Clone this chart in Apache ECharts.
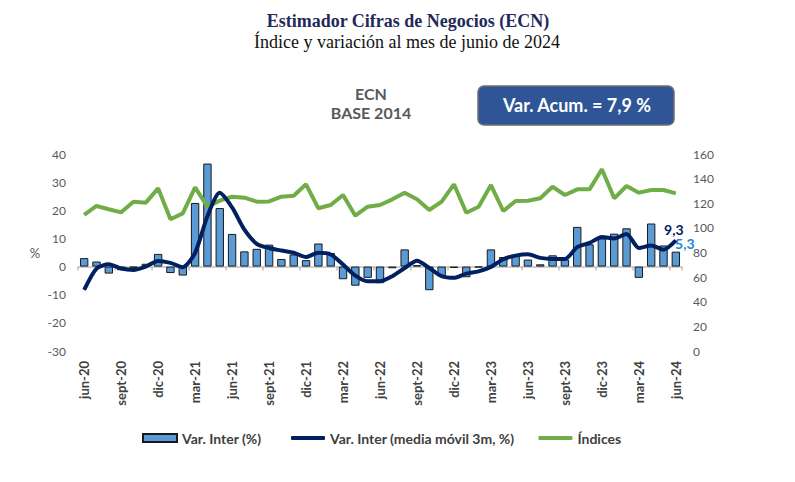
<!DOCTYPE html>
<html><head><meta charset="utf-8">
<script src="https://cdn.jsdelivr.net/npm/echarts@6/dist/echarts.min.js"></script>
<style>html,body{margin:0;padding:0;background:#fff}#c{width:795px;height:482px}</style>
</head><body><div id="c"></div>
<script>
const categories = [
  'jun-20','jul-20','ago-20','sept-20','oct-20','nov-20','dic-20',
  'ene-21','feb-21','mar-21','abr-21','may-21','jun-21','jul-21','ago-21','sept-21','oct-21','nov-21','dic-21',
  'ene-22','feb-22','mar-22','abr-22','may-22','jun-22','jul-22','ago-22','sept-22','oct-22','nov-22','dic-22',
  'ene-23','feb-23','mar-23','abr-23','may-23','jun-23','jul-23','ago-23','sept-23','oct-23','nov-23','dic-23',
  'ene-24','feb-24','mar-24','abr-24','may-24','jun-24'
];
const varInter = [3.0, 1.8, -2.5, -1.3, -0.4, 1.0, 4.5, -2.3, -3.2, 22.6,
  36.6, 20.8, 11.6, 5.4, 6.3, 7.8, 2.7, 4.3, 2.3, 8.2,
  4.8, -4.5, -6.8, -4.0, -5.9, -0.6, 6.1, 0.5, -8.4, -3.4,
  -0.5, -3.8, -0.3, 6.1, 3.4, 4.1, 2.5, 0.8, 4.0, 2.5,
  14.1, 7.9, 10.0, 11.7, 13.6, -4.0, 15.3, 7.5, 5.3];
const mediaMovil = [-8.3, -0.7, 0.8, -0.7, -1.2, 0.0, 2.0, 1.3, -0.2, 4.9,
  17.9, 26.2, 21.0, 13.1, 8.1, 6.6, 5.7, 4.9, 3.4, 4.9,
  4.3, 0.7, -3.2, -5.2, -5.2, -3.4, -0.5, 2.1, -0.5, -3.4,
  -4.0, -2.5, -1.7, -0.1, 2.6, 3.9, 4.4, 3.1, 2.7, 2.7,
  6.9, 8.4, 10.5, 10.0, 11.6, 6.6, 7.5, 6.0, 9.3];
const indices = [110.5, 117.8, 115.1, 112.6, 121.3, 120.5, 132.1, 107.0, 111.8, 132.9,
  117.2, 122.1, 125.3, 124.5, 121.3, 121.5, 125.3, 126.1, 135.4, 115.9,
  118.6, 126.7, 109.9, 117.2, 118.6, 123.2, 128.6, 123.2, 114.5, 121.3,
  135.4, 112.3, 117.2, 134.8, 113.7, 121.8, 122.1, 124.0, 133.4, 126.7,
  131.3, 131.3, 147.6, 124.0, 134.0, 128.6, 130.8, 130.8, 128.0];
const leftTicks = {min: -30, max: 40, interval: 10};
const rightTicks = {min: 0, max: 160, interval: 20};
const seriesNames = ['Var. Inter (%)', 'Var. Inter (media móvil 3m, %)', 'Índices'];
const titleText = 'Estimador Cifras de Negocios (ECN)';
const subtitleText = 'Índice y variación al mes de junio de 2024';
const acumText = 'Var. Acum. = 7,9 %';

const sans = 'Lato, "Open Sans", sans-serif';
const serif = '"Liberation Serif", "DejaVu Serif", serif';
const last = categories.length - 1;
const comma = p => String(p.value).replace('.', ',');

const barData = varInter.map((v, i) => i === last ? {
  value: v,
  label: {show: true, position: 'top', distance: 1, offset: [9, 0], formatter: comma,
    color: '#1F86D6', fontFamily: sans, fontWeight: 'bold', fontSize: 14}
} : v);
const maData = mediaMovil.map((v, i) => i === last ? {
  value: v, symbol: 'circle', symbolSize: 1,
  label: {show: true, position: 'top', distance: 3, offset: [-2, 0], formatter: comma,
    color: '#002060', fontFamily: sans, fontWeight: 'bold', fontSize: 14}
} : v);

const legendText = {fontFamily: sans, fontWeight: 'bold', fontSize: 14, color: '#404040'};

const chart = echarts.init(document.getElementById('c'), null, {renderer: 'svg'});
chart.setOption({
  animation: false,
  backgroundColor: '#ffffff',
  grid: {left: 78, right: 113, top: 154, bottom: 131, containLabel: false},
  xAxis: [
    {type: 'category', data: categories, boundaryGap: true, position: 'bottom',
      axisLine: {show: true, onZero: true, onZeroAxisIndex: 0, lineStyle: {color: '#BFBFBF', width: 1.5}},
      axisTick: {show: true, interval: (i) => i % 3 === 0, length: 4, lineStyle: {color: '#BFBFBF', width: 1.5}},
      axisLabel: {show: false}, splitLine: {show: false}},
    {type: 'category', data: categories, boundaryGap: true, position: 'bottom',
      axisLine: {show: false, onZero: false}, axisTick: {show: false}, splitLine: {show: false},
      axisLabel: {rotate: 90, interval: 2, fontFamily: sans, fontWeight: 'bold', fontSize: 13, color: '#404040', margin: 10}}
  ],
  yAxis: [
    {type: 'value', position: 'left', min: leftTicks.min, max: leftTicks.max, interval: leftTicks.interval,
      splitLine: {show: false}, axisLine: {show: false}, axisTick: {show: false},
      axisLabel: {color: '#595959', fontSize: 12, fontFamily: sans, margin: 12}},
    {type: 'value', position: 'right', min: rightTicks.min, max: rightTicks.max, interval: rightTicks.interval,
      splitLine: {show: false}, axisLine: {show: false}, axisTick: {show: false},
      axisLabel: {color: '#595959', fontSize: 12, fontFamily: sans, margin: 11}}
  ],
  legend: [
    {top: 426, left: 137, itemWidth: 34, itemHeight: 8, textStyle: legendText,
      data: [{name: seriesNames[0], icon: 'rect'}]},
    {top: 426, left: 286, itemWidth: 34, itemHeight: 4, itemGap: 24, textStyle: legendText,
      data: [{name: seriesNames[1], icon: 'roundRect'}, {name: seriesNames[2], icon: 'roundRect'}]}
  ],
  series: [
    {type: 'bar', name: seriesNames[0], xAxisIndex: 0, yAxisIndex: 0, data: barData, barWidth: '68%', z: 2,
      itemStyle: {color: '#5B9BD5', borderColor: '#1a1a1a', borderWidth: 1}},
    {type: 'line', name: seriesNames[2], xAxisIndex: 0, yAxisIndex: 1, data: indices, symbol: 'none', z: 3,
      lineStyle: {color: '#70AD47', width: 4}, itemStyle: {color: '#70AD47'}},
    {type: 'line', name: seriesNames[1], xAxisIndex: 0, yAxisIndex: 0, data: maData, symbol: 'none', smooth: 0.25, z: 4,
      lineStyle: {color: '#002060', width: 4}, itemStyle: {color: '#002060'}}
  ],
  graphic: [
    {type: 'text', x: 408, y: 21, style: {text: titleText, textAlign: 'center', textVerticalAlign: 'middle',
      font: 'bold 18px ' + serif, fill: '#1F2A5A'}},
    {type: 'text', x: 407, y: 42, style: {text: subtitleText, textAlign: 'center', textVerticalAlign: 'middle',
      font: '18px ' + serif, fill: '#111111'}},
    {type: 'text', x: 371, y: 93, style: {text: 'ECN', textAlign: 'center', textVerticalAlign: 'middle',
      font: 'bold 16px ' + sans, fill: '#595959'}},
    {type: 'text', x: 371, y: 112, style: {text: 'BASE 2014', textAlign: 'center', textVerticalAlign: 'middle',
      font: 'bold 16px ' + sans, fill: '#595959'}},
    {type: 'rect', shape: {x: 478, y: 86, width: 196, height: 39, r: 6},
      style: {fill: '#2F5597', stroke: '#6E6E6E', lineWidth: 1.5}},
    {type: 'text', x: 577, y: 105, style: {text: acumText, textAlign: 'center', textVerticalAlign: 'middle',
      font: 'bold 18px ' + sans, fill: '#ffffff'}},
    {type: 'text', x: 35, y: 253, style: {text: '%', textAlign: 'center', textVerticalAlign: 'middle',
      font: '13px ' + sans, fill: '#595959'}}
  ]
});
</script>
</body></html>
